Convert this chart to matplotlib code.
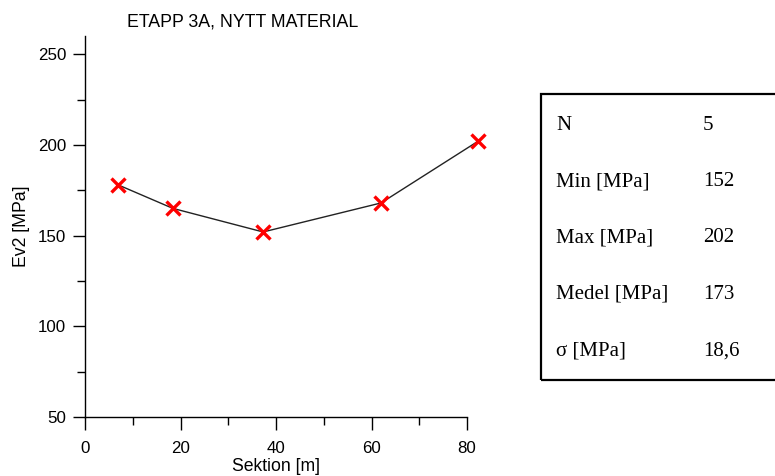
import matplotlib
matplotlib.use('Agg')
from matplotlib import pyplot as plt
from matplotlib.patches import Rectangle
from matplotlib.ticker import MultipleLocator

# mätpunkter längs sektionen
sektion = [6.9, 18.4, 37.3, 62.0, 82.3]
ev2 = [178, 165, 152, 168, 202]

stat_namn = ['N', 'Min [MPa]', 'Max [MPa]', 'Medel [MPa]', 'σ [MPa]']
stat_varde = ['5', '152', '202', '173', '18,6']

plt.rcParams['font.family'] = ['Liberation Sans', 'DejaVu Sans']

fig = plt.figure(figsize=(7.75, 4.76), dpi=100)
ax = fig.add_axes([0.1097, 0.1239, 0.4929, 0.8004])

ax.plot(sektion, ev2, color='#222222', lw=1.0, zorder=2, clip_on=False)
ax.plot(sektion, ev2, ls='none', marker='x', color='red', ms=9.8, mew=2.4,
        zorder=3, clip_on=False)

ax.set_xlim(0, 80)
ax.set_ylim(50, 260)
ax.set_xticks([0, 20, 40, 60, 80])
ax.set_yticks([50, 100, 150, 200, 250])
ax.xaxis.set_minor_locator(MultipleLocator(10))
ax.yaxis.set_minor_locator(MultipleLocator(25))

for s in ['top', 'right']:
    ax.spines[s].set_visible(False)
for s in ['left', 'bottom']:
    ax.spines[s].set_linewidth(1.0)

ax.tick_params(which='major', direction='out', length=9, width=1.0,
               labelsize=12.2)
ax.tick_params(which='minor', direction='out', length=5.5, width=1.0)
ax.tick_params(axis='x', which='major', pad=8.5)
ax.tick_params(axis='y', which='major', length=8.5, pad=5)

ax.set_xlabel('Sektion [m]', fontsize=12.7, labelpad=1.5)
ax.set_ylabel('Ev2 [MPa]', fontsize=12.7, labelpad=6)

fig.text(243 / 775, 1 - 22 / 476, 'ETAPP 3A, NYTT MATERIAL', fontsize=12.8,
         ha='center', va='center')

# statistikruta till höger
box = Rectangle((541 / 775, 1 - 380 / 476), 240 / 775, 286 / 476,
                transform=fig.transFigure, fill=False, lw=1.6,
                edgecolor='black')
fig.patches.append(box)

for i, (namn, varde) in enumerate(zip(stat_namn, stat_varde)):
    y = 1 - (125 + i * 56.5) / 476
    fig.text(556 / 775, y, namn, fontsize=15, family='Liberation Serif',
             ha='left', va='center')
    fig.text(703 / 775, y, varde, fontsize=15, family='Liberation Serif',
             ha='left', va='center')

fig.savefig('out.png', dpi=100)
